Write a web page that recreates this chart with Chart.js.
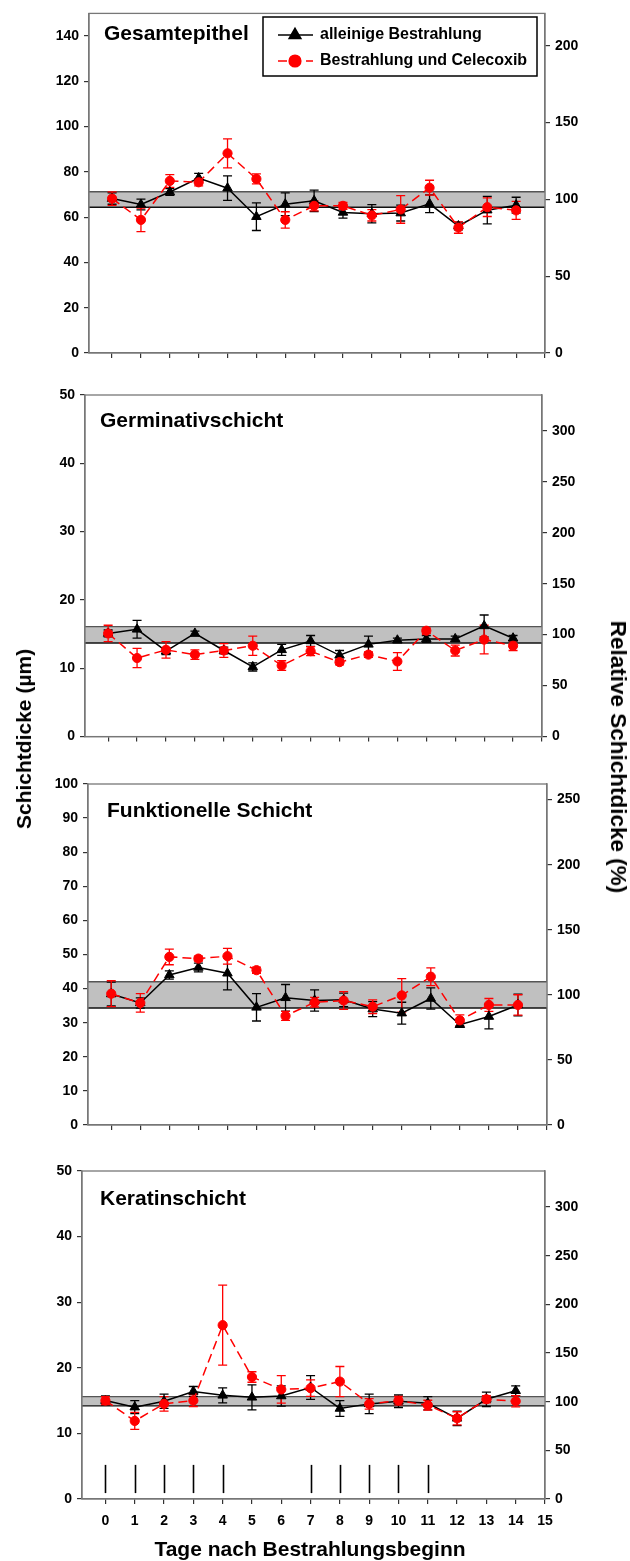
<!DOCTYPE html>
<html>
<head>
<meta charset="utf-8">
<script src="https://cdn.jsdelivr.net/npm/chart.js@4.4.1/dist/chart.umd.min.js"></script>
<style>
  body { margin: 0; background: #fff; }
  #wrap { position: relative; width: 630px; height: 1561px; overflow: hidden; }
  canvas { position: absolute; left: 0; }
  .achse { position: absolute; font: bold 21px 'Liberation Sans', Arial, sans-serif; color: #000; white-space: nowrap; }
</style>
</head>
<body>
<div id="wrap">
  <canvas id="c1" width="630" height="370" style="top:0px"></canvas>
  <canvas id="c2" width="630" height="370" style="top:380px"></canvas>
  <canvas id="c3" width="630" height="370" style="top:770px"></canvas>
  <canvas id="c4" width="630" height="421" style="top:1140px"></canvas>
  <div class="achse" id="tLinks" style="left:24px;top:739px;transform:translate(-50%,-50%) rotate(-90deg)">Schichtdicke (µm)</div>
  <div class="achse" id="tRechts" style="left:618px;top:757px;font-size:22.5px;transform:translate(-50%,-50%) rotate(90deg)">Relative Schichtdicke (%)</div>
  <div class="achse" id="tUnten" style="left:310px;top:1549px;transform:translate(-50%,-50%)">Tage nach Bestrahlungsbeginn</div>
</div>
<script>
// Tage nach Bestrahlungsbeginn
const tage = [0, 1, 2, 3, 4, 5, 6, 7, 8, 9, 10, 11, 12, 13, 14];
const xTicks = [0, 1, 2, 3, 4, 5, 6, 7, 8, 9, 10, 11, 12, 13, 14, 15];
// Tage mit Bestrahlung (Markierungen im unteren Diagramm)
const bestrahlungsTage = [0, 1, 2, 3, 4, 7, 8, 9, 10, 11];

// Gesamtepithel (µm)
const gesamtAllein   = [68.2, 65.6, 71.1, 77.3, 72.8, 60.2, 65.7, 67.2, 62.1, 61.5, 61.8, 65.9, 56.1, 63.1, 65.3];
const gesamtAlleinSd = [2.5, 2.4, 1.5, 2.0, 5.4, 6.1, 5.0, 4.7, 2.5, 4.0, 3.5, 3.9, 1.7, 6.1, 3.5];
const gesamtCele     = [68.2, 58.8, 76.0, 75.4, 88.2, 76.9, 58.8, 65.0, 65.0, 60.8, 63.4, 73.0, 55.4, 64.4, 63.0];
const gesamtCeleSd   = [3.0, 5.2, 2.8, 1.6, 6.4, 2.2, 3.6, 2.2, 1.5, 2.5, 6.1, 3.3, 2.5, 4.1, 4.0];
const gesamtNorm     = [64.4, 71.2];

// Germinativschicht (µm)
const germAllein   = [15.1, 15.7, 12.5, 15.1, 12.6, 10.2, 12.7, 14.0, 11.9, 13.5, 14.1, 14.3, 14.3, 16.2, 14.4];
const germAlleinSd = [0.5, 1.3, 0.5, 0.35, 0.5, 0.6, 0.8, 0.8, 0.7, 1.2, 0.3, 0.5, 0.4, 1.6, 0.4];
const germCele     = [15.1, 11.5, 12.7, 12.0, 12.6, 13.3, 10.4, 12.5, 10.9, 12.0, 11.0, 15.5, 12.6, 14.2, 13.3];
const germCeleSd   = [1.2, 1.4, 1.2, 0.7, 1.0, 1.4, 0.7, 0.65, 0.4, 0.4, 1.3, 0.4, 0.8, 2.1, 0.7];
const germNorm     = [13.7, 16.1];

// Funktionelle Schicht (µm)
const funkAllein   = [38.4, 35.8, 44.0, 46.2, 44.5, 34.5, 37.3, 36.5, 36.7, 34.0, 32.8, 37.1, 29.4, 31.8, 35.2];
const funkAlleinSd = [3.5, 1.5, 1.2, 1.3, 4.9, 4.0, 3.9, 3.1, 2.0, 2.2, 3.2, 3.1, 0.7, 3.6, 3.2];
const funkCele     = [38.5, 35.8, 49.3, 48.8, 49.5, 45.4, 32.0, 36.0, 36.5, 34.7, 38.0, 43.5, 30.7, 35.2, 35.2];
const funkCeleSd   = [3.8, 2.7, 2.3, 0.7, 2.3, 0.9, 1.3, 1.4, 2.6, 2.0, 4.9, 2.6, 1.6, 1.9, 3.0];
const funkNorm     = [34.3, 42.0];

// Keratinschicht (µm)
const keratAllein   = [15.0, 14.0, 14.9, 16.4, 15.8, 15.5, 15.7, 17.0, 13.8, 14.5, 14.9, 14.6, 12.3, 15.2, 16.5];
const keratAlleinSd = [0.7, 1.0, 1.1, 0.75, 1.15, 1.9, 1.55, 1.8, 1.2, 1.5, 0.95, 1.0, 1.1, 1.1, 0.75];
const keratCele     = [15.0, 11.9, 14.5, 15.0, 26.5, 18.6, 16.7, 16.9, 17.9, 14.5, 15.0, 14.3, 12.3, 15.2, 14.9];
const keratCeleSd   = [0.6, 1.3, 1.1, 0.9, 6.1, 0.8, 2.1, 1.25, 2.3, 0.8, 0.65, 0.75, 1.0, 0.55, 0.85];
const keratNorm     = [14.2, 15.6];

const FONT = "'Liberation Sans', Arial, sans-serif";
Chart.defaults.font.family = FONT;
Chart.defaults.color = '#000';

// Hintergrundband, Fehlerbalken, Markierungen, Rahmen, Titel und Legende
const dekoPlugin = {
  id: 'deko',
  beforeDatasetsDraw(chart, args, o) {
    const ctx = chart.ctx, a = chart.chartArea;
    const xs = chart.scales.x, ys = chart.scales.y;
    ctx.save();
    // Normbereich
    const yo = ys.getPixelForValue(o.norm[1]), yu = ys.getPixelForValue(o.norm[0]);
    ctx.fillStyle = '#c0c0c0';
    ctx.fillRect(a.left, yo, a.right - a.left, yu - yo);
    ctx.lineWidth = 1.4;
    ctx.strokeStyle = '#555';
    ctx.beginPath(); ctx.moveTo(a.left, yo); ctx.lineTo(a.right, yo); ctx.stroke();
    ctx.strokeStyle = '#111';
    ctx.beginPath(); ctx.moveTo(a.left, yu); ctx.lineTo(a.right, yu); ctx.stroke();
    // Bestrahlungstage
    if (o.marken) {
      ctx.strokeStyle = '#000';
      ctx.lineWidth = 1.6;
      o.marken.forEach(t => {
        const x = Math.round(xs.getPixelForValue(t)) + 0.5;
        ctx.beginPath();
        ctx.moveTo(x, ys.getPixelForValue(0.9));
        ctx.lineTo(x, ys.getPixelForValue(5.2));
        ctx.stroke();
      });
    }
    // Fehlerbalken (schwarz zuerst, dann rot)
    [0, 1].forEach(d => {
      const ds = chart.data.datasets[d];
      ctx.strokeStyle = ds.borderColor;
      ctx.lineWidth = 1.3;
      ds.data.forEach((p, i) => {
        const sd = ds.fehler[i];
        const x = xs.getPixelForValue(p.x);
        const y1 = ys.getPixelForValue(p.y + sd), y2 = ys.getPixelForValue(p.y - sd);
        ctx.beginPath();
        ctx.moveTo(x, y1); ctx.lineTo(x, y2);
        ctx.moveTo(x - 4.5, y1); ctx.lineTo(x + 4.5, y1);
        ctx.moveTo(x - 4.5, y2); ctx.lineTo(x + 4.5, y2);
        ctx.stroke();
      });
    });
    ctx.restore();
  },
  afterDraw(chart, args, o) {
    const ctx = chart.ctx, a = chart.chartArea;
    ctx.save();
    ctx.strokeStyle = '#777';
    ctx.lineWidth = 1.3;
    ctx.strokeRect(a.left, a.top, a.right - a.left, a.bottom - a.top);
    ctx.fillStyle = '#000';
    ctx.font = 'bold 21px ' + FONT;
    ctx.textBaseline = 'middle';
    ctx.fillText(o.titel, o.titelX, o.titelY);
    if (o.legende) {
      const L = o.legende;
      ctx.fillStyle = '#fff';
      ctx.fillRect(L.x, L.y, L.w, L.h);
      ctx.strokeStyle = '#000';
      ctx.lineWidth = 1.5;
      ctx.strokeRect(L.x, L.y, L.w, L.h);
      ctx.font = 'bold 16px ' + FONT;
      chart.data.datasets.forEach((ds, i) => {
        const yy = L.y + 18 + i * 26;
        ctx.strokeStyle = ds.borderColor;
        ctx.lineWidth = 1.6;
        ctx.setLineDash(ds.borderDash || []);
        ctx.beginPath(); ctx.moveTo(L.x + 15, yy); ctx.lineTo(L.x + 50, yy); ctx.stroke();
        ctx.setLineDash([]);
        Chart.helpers.drawPoint(ctx, {
          pointStyle: ds.pointStyle, radius: ds.pointRadius + 1.2, borderWidth: 1,
          rotation: 0
        }, L.x + 32, yy);
        ctx.fillStyle = ds.backgroundColor;
        ctx.fill();
        ctx.fillStyle = '#000';
        ctx.fillText(ds.label, L.x + 57, yy);
      });
    }
    ctx.restore();
  }
};

function panel(el, p) {
  const cv = document.getElementById(el);
  const canvasTop = parseInt(cv.style.top, 10), H = cv.height;
  const tickFont = { size: 14, weight: 'bold', family: FONT };
  return new Chart(cv, {
    type: 'line',
    data: {
      datasets: [
        {
          label: 'alleinige Bestrahlung',
          data: tage.map((t, i) => ({ x: t, y: p.allein[i] })),
          fehler: p.alleinSd,
          borderColor: '#000', backgroundColor: '#000', borderWidth: 1.5,
          pointStyle: 'triangle', pointRadius: 5.5, pointBorderWidth: 1,
          order: 2
        },
        {
          label: 'Bestrahlung und Celecoxib',
          data: tage.map((t, i) => ({ x: t, y: p.cele[i] })),
          fehler: p.celeSd,
          borderColor: '#ff0000', backgroundColor: '#ff0000', borderWidth: 1.5,
          borderDash: [9, 5],
          pointStyle: 'circle', pointRadius: 4.6, pointBorderWidth: 1,
          order: 1
        }
      ]
    },
    options: {
      responsive: false,
      animation: false,
      layout: { padding: { top: p.oben - canvasTop, left: 0, right: 0, bottom: 0 } },
      plugins: {
        legend: { display: false },
        tooltip: { enabled: false },
        deko: {
          norm: p.norm, marken: p.marken, titel: p.titel,
          titelX: p.titelPos[0], titelY: p.titelPos[1] - canvasTop,
          legende: p.legende
        }
      },
      scales: {
        x: {
          type: 'linear', min: -0.8, max: 15,
          afterBuildTicks: s => { s.ticks = xTicks.map(v => ({ value: v })); },
          afterFit: s => { s.height = canvasTop + H - p.unten; },
          grid: { drawOnChartArea: false, color: '#333', tickLength: 5, lineWidth: 1.2 },
          border: { color: '#777', width: 1.3 },
          ticks: { display: !!p.xLabels, font: tickFont, padding: 9, maxRotation: 0 }
        },
        y: {
          position: 'left', min: 0, max: p.yMax,
          afterBuildTicks: s => { s.ticks = p.yTicks.map(v => ({ value: v })); },
          afterFit: s => { s.width = p.links; },
          grid: { drawOnChartArea: false, color: '#333', tickLength: 5, lineWidth: 1.2 },
          border: { color: '#777', width: 1.3 },
          ticks: { font: tickFont, padding: 5 }
        },
        y2: {
          position: 'right', min: 0, max: p.y2Max,
          afterBuildTicks: s => { s.ticks = p.y2Ticks.map(v => ({ value: v })); },
          afterFit: s => { s.width = 630 - p.rechts; },
          grid: { drawOnChartArea: false, color: '#333', tickLength: 5, lineWidth: 1.2 },
          border: { color: '#777', width: 1.3 },
          ticks: { font: tickFont, padding: 5 }
        }
      }
    },
    plugins: [dekoPlugin]
  });
}

panel('c1', {
  allein: gesamtAllein, alleinSd: gesamtAlleinSd, cele: gesamtCele, celeSd: gesamtCeleSd, norm: gesamtNorm,
  yMax: 150, yTicks: [0, 20, 40, 60, 80, 100, 120, 140], y2Max: 221, y2Ticks: [0, 50, 100, 150, 200],
  oben: 9, unten: 353, links: 89, rechts: 545,
  titel: 'Gesamtepithel', titelPos: [104, 34],
  legende: { x: 263, y: 17, w: 274, h: 59 }
});
panel('c2', {
  allein: germAllein, alleinSd: germAlleinSd, cele: germCele, celeSd: germCeleSd, norm: germNorm,
  yMax: 50, yTicks: [0, 10, 20, 30, 40, 50], y2Max: 335, y2Ticks: [0, 50, 100, 150, 200, 250, 300],
  oben: 395, unten: 741, links: 85, rechts: 542,
  titel: 'Germinativschicht', titelPos: [100, 421]
});
panel('c3', {
  allein: funkAllein, alleinSd: funkAlleinSd, cele: funkCele, celeSd: funkCeleSd, norm: funkNorm,
  yMax: 100, yTicks: [0, 10, 20, 30, 40, 50, 60, 70, 80, 90, 100], y2Max: 262, y2Ticks: [0, 50, 100, 150, 200, 250],
  oben: 784, unten: 1125, links: 88, rechts: 547,
  titel: 'Funktionelle Schicht', titelPos: [107, 811]
});
panel('c4', {
  allein: keratAllein, alleinSd: keratAlleinSd, cele: keratCele, celeSd: keratCeleSd, norm: keratNorm,
  yMax: 50, yTicks: [0, 10, 20, 30, 40, 50], y2Max: 337, y2Ticks: [0, 50, 100, 150, 200, 250, 300],
  oben: 1171, unten: 1499, links: 82, rechts: 545,
  titel: 'Keratinschicht', titelPos: [100, 1199],
  marken: bestrahlungsTage, xLabels: true
});
</script>
</body>
</html>
